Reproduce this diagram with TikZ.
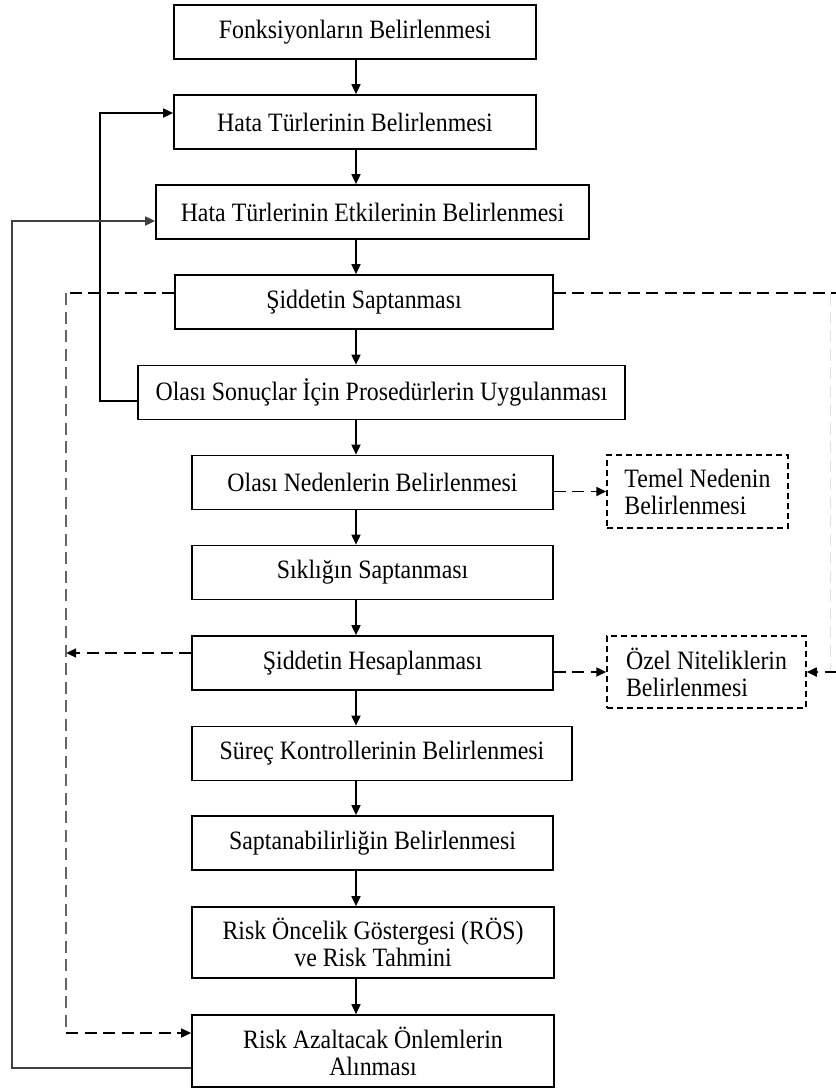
\documentclass[tikz,border=0pt]{standalone}
\usepackage{fontspec}
\setmainfont{Liberation Serif}[FakeStretch=0.9]
\usetikzlibrary{arrows.meta,positioning}

\tikzset{
  stepbox/.style={draw, line width=1.7pt, align=center, inner sep=0pt,
    minimum height=54pt, font=\fontsize{26.5}{27}\selectfont},
  sidebox/.style={stepbox, line width=1.5pt, dash pattern=on 6pt off 4pt, align=left, minimum height=72pt},
  arr/.style={line width=1.7pt, -{Triangle[length=10pt,width=9pt]}},
  dashline/.style={line width=1.7pt, dash pattern=on 12pt off 6.5pt},
  dasharr/.style={dashline, -{Triangle[length=10pt,width=9pt]}}
}

\begin{document}
\begin{tikzpicture}[x=1pt, y=-1pt]
    \useasboundingbox (0,0) rectangle (836,1088);

    % --- main chain ---
    \node[stepbox, minimum width=362pt] (f1) at (355,32) {Fonksiyonların Belirlenmesi};
    \node[stepbox, minimum width=362pt] (f2) at (355,122) {Hata Türlerinin Belirlenmesi};
    \node[stepbox, minimum width=433pt] (f3) at (372.5,212) {Hata Türlerinin Etkilerinin Belirlenmesi};
    \node[stepbox, minimum width=378pt] (f4) at (364,302) {Şiddetin Saptanması};
    \node[stepbox, minimum width=487pt] (f5) at (381.5,392.5) {Olası Sonuçlar İçin Prosedürlerin Uygulanması};
    \node[stepbox, minimum width=361pt] (f6) at (372.5,482.5) {Olası Nedenlerin Belirlenmesi};
    \node[stepbox, minimum width=361pt] (f7) at (372.5,572.5) {Sıklığın Saptanması};
    \node[stepbox, minimum width=361pt] (f8) at (372.5,663) {Şiddetin Hesaplanması};
    \node[stepbox, minimum width=380pt] (f9) at (382,753.5) {Süreç Kontrollerinin Belirlenmesi};
    \node[stepbox, minimum width=361pt] (f10) at (372.5,843) {Saptanabilirliğin Belirlenmesi};
    \node[stepbox, minimum width=362pt, minimum height=71pt] (f11) at (373,942.5)
        {Risk Öncelik Göstergesi (RÖS)\\ve Risk Tahmini};
    \node[stepbox, minimum width=362pt, minimum height=72pt] (f12) at (373,1051)
        {Risk Azaltacak Önlemlerin\\Alınması};

    % --- side boxes ---
    \node[sidebox, minimum width=181pt, minimum height=73pt] (t1) at (697.5,491.5)
        {Temel Nedenin\\Belirlenmesi};
    \node[sidebox, minimum width=199pt] (t2) at (706.5,672)
        {Özel Niteliklerin\\Belirlenmesi};

    % spine arrows
    \coordinate (sp) at (356,0);
    \foreach \a/\b in {f1/f2,f2/f3,f3/f4,f4/f5,f5/f6,f6/f7,f7/f8,f8/f9,f9/f10,f10/f11,f11/f12}
        \draw[arr] (\a.south -| sp) -- (\b.north -| sp);

    % feedback loops
    \draw[arr] ([yshift=-8.5pt]f5.west) -- ++(-37,0) |- ([yshift=9pt]f2.west);
    \draw[arr, black!75] ([yshift=-17pt]f12.west) -- ++(-179,0) |- ([yshift=-9pt]f3.west);

    % dashed links
    \coordinate (lv) at (67,0);
    \draw[dashline] ([yshift=9pt]f4.west) -- ++(-108,0);
    \draw[dashline, black!60] ([yshift=9pt]f4.west) ++(-108,0) -- ++(0,740);
    \draw[dasharr] ([yshift=18pt]f12.west) ++(-125,0) -- ([yshift=18pt]f12.west);
    \draw[dasharr] ([yshift=10pt]f8.west) -- ++(-125,0);
    \draw[dasharr] (f6.east |- t1.west) -- (t1.west);
    \draw[dasharr] (f8.east |- t2.west) -- (t2.west);
    \draw[dashline] ([yshift=9pt]f4.east) -- ++(283,0);
    \draw[dashline, line width=1pt, black!12] ([yshift=9pt]f4.east) ++(277,0) -- ++(0,379);
    \draw[dasharr] (t2.east) ++(30,0) -- (t2.east);
\end{tikzpicture}
\end{document}
